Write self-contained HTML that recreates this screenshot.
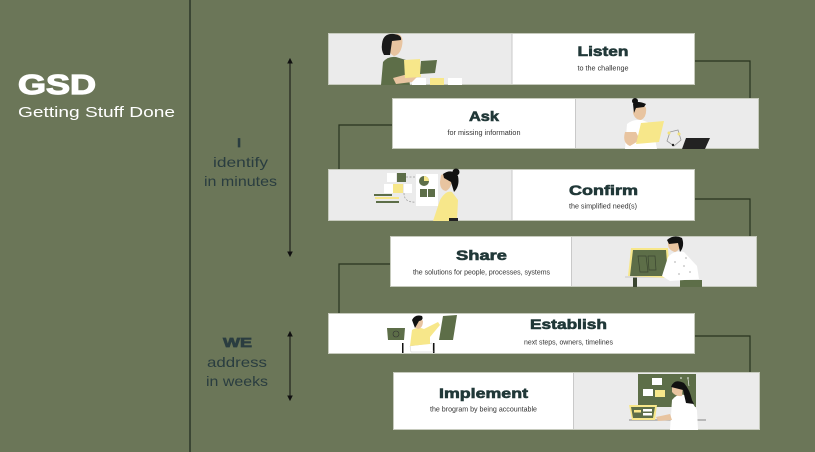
<!DOCTYPE html>
<html><head><meta charset="utf-8"><style>
html,body{margin:0;padding:0;background:#6b7658;}
svg{display:block;}
text{font-family:"Liberation Sans",Arial,sans-serif;}
</style></head><body>
<svg width="815" height="452" viewBox="0 0 815 452" xmlns="http://www.w3.org/2000/svg">
<rect width="815" height="452" fill="#6b7658"/>
<!-- divider -->
<line x1="190" y1="0" x2="190" y2="452" stroke="#2f3a2b" stroke-width="1.6"/>

<!-- left title -->
<text x="18" y="94" font-size="28" font-weight="bold" fill="#ffffff" stroke="#ffffff" stroke-width="1.2" textLength="78" lengthAdjust="spacingAndGlyphs">GSD</text>
<text x="18" y="117" font-size="15" fill="#ffffff" textLength="157" lengthAdjust="spacingAndGlyphs">Getting Stuff Done</text>

<!-- I identify -->
<g fill="#2a3d40">
<text x="239" y="147" font-size="12" font-weight="bold" text-anchor="middle" stroke="#2a3d40" stroke-width="0.8">I</text>
<text x="213" y="167" font-size="14" textLength="55" lengthAdjust="spacingAndGlyphs">identify</text>
<text x="204" y="186" font-size="14" textLength="73" lengthAdjust="spacingAndGlyphs">in minutes</text>
<text x="223" y="347" font-size="13" font-weight="bold" stroke="#2a3d40" stroke-width="0.7" textLength="29" lengthAdjust="spacingAndGlyphs">WE</text>
<text x="207" y="367" font-size="14" textLength="60" lengthAdjust="spacingAndGlyphs">address</text>
<text x="206" y="386" font-size="14" textLength="62" lengthAdjust="spacingAndGlyphs">in weeks</text>
</g>

<!-- arrows -->
<g stroke="#111" stroke-width="1" fill="#111">
<line x1="290" y1="61" x2="290" y2="254"/>
<path d="M288,63 L290,59 L292,63 Z"/>
<path d="M288,252 L290,256 L292,252 Z"/>
<line x1="290" y1="334" x2="290" y2="398"/>
<path d="M288,336 L290,332 L292,336 Z"/>
<path d="M288,396 L290,400 L292,396 Z"/>
</g>

<!-- connectors -->
<g stroke="#28331f" stroke-width="1.2" fill="none">
<path d="M694,61 H750 V98"/>
<path d="M392,125 H339 V169"/>
<path d="M694,199 H750 V236"/>
<path d="M390,264 H339 V313"/>
<path d="M694,336 H750 V372"/>
</g>

<!-- Card 1 Listen -->
<rect x="328.5" y="33.5" width="366" height="51" fill="#ffffff" stroke="#c6cabd"/>
<rect x="329" y="34" width="183" height="50" fill="#ebebeb"/>
<line x1="512" y1="34" x2="512" y2="84" stroke="#c9c9c9"/>
<rect x="412" y="78" width="14" height="7" fill="#fff"/>
<rect x="430" y="78" width="14" height="7" fill="#f7e78a"/>
<rect x="448" y="78" width="14" height="7" fill="#fff"/>
<path d="M381,85 L383,62 Q388,56 396,57 L406,60 L410,85 Z" fill="#5d6e48"/>
<path d="M389,40 Q390,34 398,34 Q404,36 402,46 Q400,55 394,56 Q387,53 389,40 Z" fill="#e8c4a0"/>
<path d="M382,44 Q383,33 394,34 Q402,35 401,40 L392,41 L390,55 L384,55 Q381,50 382,44 Z" fill="#1a1a1a"/>
<path d="M393,78 L408,74 L418,76 L412,82 L396,84 Z" fill="#e8c4a0"/>
<path d="M404,60 L420,59 L421,77 L405,78 Z" fill="#f7e78a"/>
<path d="M421,61 L437,60 L435,73 L420,74 Z" fill="#5d6e48"/>
<text x="603" y="56" font-size="14" font-weight="bold" fill="#213838" stroke="#213838" stroke-width="0.6" text-anchor="middle" textLength="51" lengthAdjust="spacingAndGlyphs">Listen</text>
<text x="603" y="70.5" font-size="7" fill="#333" text-anchor="middle" textLength="51" lengthAdjust="spacingAndGlyphs">to the challenge</text>

<!-- Card 2 Ask -->
<rect x="392.5" y="98.5" width="366" height="50" fill="#ffffff" stroke="#c6cabd"/>
<rect x="576" y="99" width="182" height="49" fill="#ebebeb"/>
<line x1="575.5" y1="99" x2="575.5" y2="148" stroke="#c9c9c9"/>
<path d="M625,149 L627,124 Q633,119 642,120 L652,124 L657,149 Z" fill="#ffffff"/>
<path d="M625,132 Q622,143 630,146 L640,140 L636,132 Z" fill="#e8c4a0"/>
<path d="M635,104 Q643,102 646,108 Q647,117 641,120 Q635,120 633,113 Z" fill="#e8c4a0"/>
<path d="M633,104 Q637,100 646,104 L644,107 L636,108 L634,113 Z" fill="#111"/>
<circle cx="635" cy="101" r="3" fill="#111"/>
<path d="M641,123 L664,121 L659,142 L636,144 Z" fill="#f7e78a"/>
<path d="M670,132 L678,130 L681,140 L674,146 L667,141 Z" fill="none" stroke="#999" stroke-width="0.8"/>
<circle cx="669" cy="133" r="1.5" fill="#f3e27a"/>
<circle cx="679" cy="134" r="1.5" fill="#f3e27a"/>
<circle cx="673" cy="145" r="1.2" fill="#222"/>
<path d="M686,138 L710,138 L705,149 L682,149 Z" fill="#222"/>
<text x="484" y="121" font-size="14" font-weight="bold" fill="#213838" stroke="#213838" stroke-width="0.6" text-anchor="middle" textLength="30" lengthAdjust="spacingAndGlyphs">Ask</text>
<text x="484" y="135" font-size="7" fill="#333" text-anchor="middle" textLength="73" lengthAdjust="spacingAndGlyphs">for missing information</text>

<!-- Card 3 Confirm -->
<rect x="328.5" y="169.5" width="366" height="51" fill="#ffffff" stroke="#c6cabd"/>
<rect x="329" y="170" width="183" height="50" fill="#ebebeb"/>
<line x1="512" y1="170" x2="512" y2="220" stroke="#c9c9c9"/>
<rect x="387" y="173" width="9" height="9" fill="#fff"/>
<rect x="397" y="173" width="9" height="9" fill="#5d6e48"/>
<rect x="384" y="184" width="9" height="9" fill="#fff"/>
<rect x="393" y="184" width="10" height="9" fill="#f7e78a"/>
<rect x="404" y="184" width="8" height="9" fill="#fff"/>
<rect x="374" y="194" width="18" height="2" fill="#5d6e48"/>
<rect x="375" y="197" width="24" height="2" fill="#f7e78a"/>
<rect x="376" y="201" width="23" height="2" fill="#5d6e48"/>
<path d="M406,177 H416 M404,193 Q404,203 416,202" stroke="#999" stroke-width="0.7" stroke-dasharray="2,1.5" fill="none"/>
<rect x="416" y="174" width="22" height="32" fill="#ffffff"/>
<circle cx="424" cy="181" r="5" fill="#5d6e48"/>
<path d="M424,181 L424,176 A5,5 0 0 1 429,181 Z" fill="#f7e78a"/>
<rect x="420" y="189" width="7" height="8" fill="#5d6e48"/>
<rect x="428" y="189" width="7" height="8" fill="#5d6e48"/>
<path d="M433,221 L440,200 Q446,190 452,192 L458,200 L457,221 Z" fill="#f7e78a"/>
<rect x="449" y="218" width="9" height="3" fill="#222"/>
<path d="M441,175 Q449,171 452,178 Q452,188 446,191 Q440,190 440,182 Z" fill="#e8c4a0"/>
<path d="M443,174 Q452,168 458,176 Q460,186 454,192 L451,182 L444,178 Z" fill="#111"/>
<circle cx="456" cy="172" r="3.5" fill="#111"/>
<text x="603.5" y="195" font-size="14" font-weight="bold" fill="#213838" stroke="#213838" stroke-width="0.6" text-anchor="middle" textLength="69" lengthAdjust="spacingAndGlyphs">Confirm</text>
<text x="603" y="208.5" font-size="7" fill="#333" text-anchor="middle" textLength="68" lengthAdjust="spacingAndGlyphs">the simplified need(s)</text>

<!-- Card 4 Share -->
<rect x="390.5" y="236.5" width="366" height="50" fill="#ffffff" stroke="#c6cabd"/>
<rect x="572" y="237" width="184" height="49" fill="#ebebeb"/>
<line x1="571.5" y1="237" x2="571.5" y2="286" stroke="#c9c9c9"/>
<rect x="633" y="277" width="4" height="10" fill="#3a4530"/>
<line x1="625" y1="277" x2="672" y2="277" stroke="#cfcfcf" stroke-width="1.2"/>
<path d="M628,276 L631,248 L668,248 L670,278 Z" fill="#f7e78a"/>
<path d="M630,276 L633,250 L666,250 L668,276 Z" fill="#5d6e48"/>
<path d="M638,256 L646,256 L648,272 L640,272 Z M648,256 L655,256 L656,270 L649,270 Z" fill="none" stroke="#3a4530" stroke-width="0.7"/>
<path d="M680,280 L702,280 L702,287 L680,287 Z" fill="#5d6e48"/>
<path d="M662,276 L668,257 Q674,250 684,252 L697,266 L699,279 L670,281 Z" fill="#ffffff"/>
<path d="M668,240 Q675,236 680,242 Q681,250 675,252 Q668,250 668,244 Z" fill="#e8c4a0"/>
<path d="M667,240 Q674,234 682,238 Q685,246 680,252 L678,243 L669,244 Z" fill="#111"/>
<g fill="#333"><circle cx="675" cy="262" r=".5"/><circle cx="684" cy="266" r=".5"/><circle cx="690" cy="272" r=".5"/><circle cx="679" cy="274" r=".5"/><circle cx="686" cy="258" r=".5"/></g>
<text x="481.5" y="260" font-size="14" font-weight="bold" fill="#213838" stroke="#213838" stroke-width="0.6" text-anchor="middle" textLength="51" lengthAdjust="spacingAndGlyphs">Share</text>
<text x="481.5" y="274.5" font-size="7" fill="#333" text-anchor="middle" textLength="137" lengthAdjust="spacingAndGlyphs">the solutions for people, processes, systems</text>

<!-- Card 5 Establish -->
<rect x="328.5" y="313.5" width="366" height="40" fill="#ffffff" stroke="#c6cabd"/>
<path d="M387,328 L405,328 L404,340 L388,340 Z" fill="#5d6e48"/>
<circle cx="396" cy="334" r="3" fill="none" stroke="#333" stroke-width="0.6"/>
<rect x="402" y="343" width="1.5" height="10" fill="#111"/>
<rect x="433" y="343" width="1.5" height="10" fill="#111"/>
<path d="M410,346 L432,343 L433,352 L411,352 Z" fill="#fff" stroke="#ccc" stroke-width="0.5"/>
<path d="M410,346 L412,330 Q418,326 424,329 L438,322 L440,325 L430,337 L430,344 Z" fill="#f7e78a"/>
<path d="M414,320 Q419,316 423,321 Q423,328 418,329 Q413,327 414,320 Z" fill="#e8c4a0"/>
<path d="M412,320 Q415,314 422,316 Q424,320 419,321 L415,328 Z" fill="#111"/>
<path d="M443,316 L457,315 L453,340 L439,340 Z" fill="#5d6e48"/>
<text x="568.5" y="329" font-size="14" font-weight="bold" fill="#213838" stroke="#213838" stroke-width="0.6" text-anchor="middle" textLength="77" lengthAdjust="spacingAndGlyphs">Establish</text>
<text x="568.5" y="344.5" font-size="7" fill="#333" text-anchor="middle" textLength="89" lengthAdjust="spacingAndGlyphs">next steps, owners, timelines</text>

<!-- Card 6 Implement -->
<rect x="393.5" y="372.5" width="366" height="57" fill="#ffffff" stroke="#c6cabd"/>
<rect x="574" y="373" width="185" height="56" fill="#ebebeb"/>
<line x1="573.5" y1="373" x2="573.5" y2="429" stroke="#c9c9c9"/>
<rect x="638" y="374" width="58" height="33" fill="#5d6e48"/>
<rect x="652" y="378" width="10" height="7" fill="#fff"/>
<rect x="643" y="389" width="10" height="7" fill="#fff"/>
<rect x="655" y="390" width="10" height="7" fill="#f7e78a"/>
<circle cx="681" cy="378" r="0.8" fill="#fff"/><circle cx="688" cy="378" r="0.8" fill="#fff"/>
<line x1="688" y1="379" x2="689" y2="386" stroke="#fff" stroke-width="0.6"/>
<line x1="629" y1="420" x2="706" y2="420" stroke="#9a9a9a" stroke-width="1.2"/>
<path d="M629,405 L657,405 L655,420 L632,420 Z" fill="#f7e78a"/>
<path d="M631,407 L655,407 L653,418 L633,418 Z" fill="#5d6e48"/>
<rect x="634" y="410" width="7" height="2.5" fill="#f7e78a"/>
<rect x="643" y="409" width="9" height="2.5" fill="#fff"/>
<rect x="643" y="413" width="9" height="2.5" fill="#fff"/>
<path d="M670,430 L672,400 Q678,392 688,396 L697,410 L698,430 Z" fill="#ffffff"/>
<path d="M672,386 Q676,381 683,386 L682,396 Q676,397 672,392 Z" fill="#e8c4a0"/>
<path d="M671,387 Q674,378 684,383 Q690,390 692,400 L694,404 L686,403 L683,390 Z" fill="#111"/>
<path d="M656,417 L670,414 L672,420 L658,421 Z" fill="#e8c4a0"/>
<text x="483.5" y="398" font-size="14" font-weight="bold" fill="#213838" stroke="#213838" stroke-width="0.6" text-anchor="middle" textLength="89" lengthAdjust="spacingAndGlyphs">Implement</text>
<text x="483.5" y="411.5" font-size="7" fill="#333" text-anchor="middle" textLength="107" lengthAdjust="spacingAndGlyphs">the brogram by being accountable</text>
</svg>
</body></html>
